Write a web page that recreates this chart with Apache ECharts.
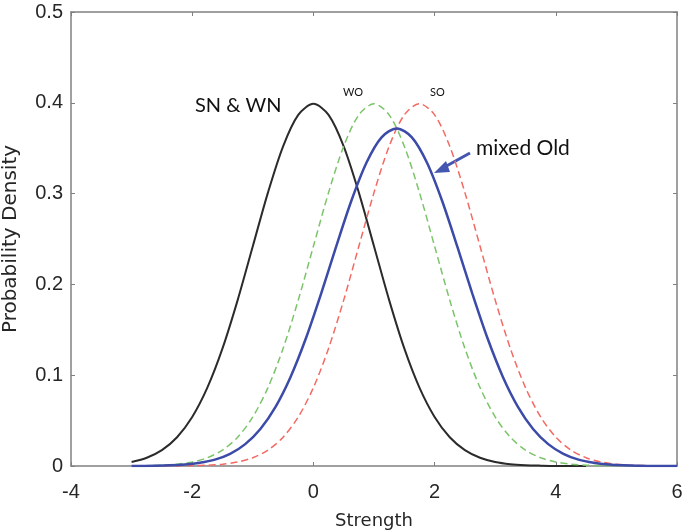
<!DOCTYPE html>
<html><head><meta charset="utf-8">
<script src="https://cdn.jsdelivr.net/npm/echarts@6/dist/echarts.min.js"></script>
<style>html,body{margin:0;padding:0;background:#fff}#c{width:685px;height:532px}</style>
</head><body><div id="c"></div>
<script>
// x positions (Strength)
const xSN = [-3,-2.75,-2.5,-2.25,-2,-1.75,-1.5,-1.25,-1,-0.75,-0.5,-0.25,0,0.25,0.5,0.75,1,1.25,1.5,1.75,2,2.25,2.5,2.75,3,3.25,3.5,3.75,4,4.25,4.5];
const ySN = [0.0044,0.0091,0.0175,0.0317,0.054,0.0863,0.1295,0.1827,0.242,0.3011,0.3521,0.3867,0.3989,0.3867,0.3521,0.3011,0.242,0.1827,0.1295,0.0863,0.054,0.0317,0.0175,0.0091,0.0044,0.002,0.0009,0.0004,0.0001,0.0001,0];
const xOld = [-3,-2.75,-2.5,-2.25,-2,-1.75,-1.5,-1.25,-1,-0.75,-0.5,-0.25,0,0.25,0.5,0.75,1,1.25,1.5,1.75,2,2.25,2.5,2.75,3,3.25,3.5,3.75,4,4.25,4.5,4.75,5,5.25,5.5,5.75,6];
const yWO = [0.0001,0.0004,0.0009,0.002,0.0044,0.0091,0.0175,0.0317,0.054,0.0863,0.1295,0.1827,0.242,0.3011,0.3521,0.3867,0.3989,0.3867,0.3521,0.3011,0.242,0.1827,0.1295,0.0863,0.054,0.0317,0.0175,0.0091,0.0044,0.002,0.0009,0.0004,0.0001,0.0001,0,0,0];
const ySO = [0,0,0.0001,0.0001,0.0004,0.0009,0.002,0.0044,0.0091,0.0175,0.0317,0.054,0.0863,0.1295,0.1827,0.242,0.3011,0.3521,0.3867,0.3989,0.3867,0.3521,0.3011,0.242,0.1827,0.1295,0.0863,0.054,0.0317,0.0175,0.0091,0.0044,0.002,0.0009,0.0004,0.0001,0.0001];
const xMix = [-3,-2.875,-2.625,-2.375,-2.125,-1.875,-1.625,-1.375,-1.125,-0.875,-0.625,-0.375,-0.125,0.125,0.375,0.625,0.875,1.125,1.375,1.625,1.875,2.125,2.375,2.625,2.875,3.125,3.375,3.625,3.875,4.125,4.375,4.625,4.875,5.125,5.375,5.625,5.875,6];
const yMix = [0.0001,0.0001,0.0003,0.0007,0.0016,0.0035,0.007,0.0134,0.0241,0.0408,0.0652,0.0984,0.1404,0.1894,0.2416,0.2919,0.334,0.362,0.3718,0.362,0.334,0.2919,0.2416,0.1894,0.1404,0.0984,0.0652,0.0408,0.0241,0.0134,0.007,0.0035,0.0016,0.0007,0.0003,0.0001,0.0001,0.0001];
const xTicks = [-4,-2,0,2,4,6];
const yTicks = [0,0.1,0.2,0.3,0.4,0.5];

const pairs = (xs, ys) => xs.map((x,i)=>[x,ys[i]]);
const axisCol = '#808080';
const txtCol = '#262626';
const tickFont = 'Liberation Sans, Arial, sans-serif';

const chart = echarts.init(document.getElementById('c'), null, {renderer:'canvas'});
const baseX = {type:'value', min:-4, max:6, interval:2,
  axisLine:{show:true, onZero:false, lineStyle:{color:axisCol, width:1.5}},
  axisTick:{show:true, inside:true, length:4, lineStyle:{color:axisCol}},
  splitLine:{show:false}};
const baseY = {type:'value', min:0, max:0.5, interval:0.1,
  axisLine:{show:true, onZero:false, lineStyle:{color:axisCol, width:1.5}},
  axisTick:{show:true, inside:true, length:4, lineStyle:{color:axisCol}},
  splitLine:{show:false}};
chart.setOption({
  animation:false,
  grid:{left:71, right:8, top:12, bottom:66, containLabel:false, outerBoundsMode:'none'},
  xAxis:[
    Object.assign({}, baseX, {position:'bottom', name:'Strength', nameLocation:'middle', nameGap:46,
      nameTextStyle:{fontFamily:'DejaVu Sans, sans-serif', fontSize:18, color:txtCol},
      axisLabel:{fontFamily:tickFont, fontSize:20, color:txtCol, margin:16, formatter:v=>String(v)}}),
    Object.assign({}, baseX, {position:'top', axisLabel:{show:false}})
  ],
  yAxis:[
    Object.assign({}, baseY, {position:'left', name:'Probability Density', nameLocation:'middle', nameGap:50,
      nameTextStyle:{fontFamily:'DejaVu Sans, sans-serif', fontSize:20, color:txtCol},
      axisLabel:{fontFamily:tickFont, fontSize:20, color:txtCol, margin:8, formatter:v=>String(v)}}),
    Object.assign({}, baseY, {position:'right', axisLabel:{show:false}})
  ],
  series:[
    {name:'SN & WN', type:'line', smooth:0.3, showSymbol:false, data:pairs(xSN,ySN),
      lineStyle:{color:'#2b2b2b', width:2}},
    {name:'WO', type:'line', smooth:0.3, showSymbol:false, data:pairs(xOld,yWO),
      lineStyle:{color:'#7cc46a', width:1.5, type:[7,4]}},
    {name:'SO', type:'line', smooth:0.3, showSymbol:false, data:pairs(xOld,ySO),
      lineStyle:{color:'#f26a63', width:1.5, type:[7,4]}},
    {name:'mixed Old', type:'line', smooth:0.3, showSymbol:false, data:pairs(xMix,yMix),
      lineStyle:{color:'#3c4aa8', width:2.5}}
  ],
  graphic:[
    {type:'text', left:195, top:96, style:{text:'SN & WN', font:'20px Lato, "Open Sans", sans-serif', fill:'#111'}},
    {type:'text', left:343, top:87, style:{text:'WO', font:'11px Lato, "Open Sans", sans-serif', fill:'#111'}},
    {type:'text', left:430, top:87, style:{text:'SO', font:'11px Lato, "Open Sans", sans-serif', fill:'#111'}},
    {type:'text', left:476, top:138, style:{text:'mixed Old', font:'21px Lato, "Open Sans", sans-serif', fill:'#111'}},
    {type:'line', shape:{x1:470, y1:153, x2:441, y2:169}, style:{stroke:'#4456b0', lineWidth:3}},
    {type:'polygon', shape:{points:[[434,173],[446,161],[450,172]]}, style:{fill:'#4456b0'}}
  ]
});
</script></body></html>
